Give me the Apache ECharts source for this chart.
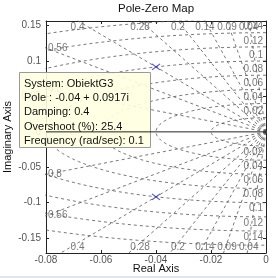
<!DOCTYPE html>
<html><head><meta charset="utf-8">
<script src="https://cdn.jsdelivr.net/npm/echarts@6/dist/echarts.min.js"></script>
<style>html,body{margin:0;padding:0;background:#fff}#c{width:276px;height:278px}</style>
</head><body><div id="c"></div>
<script>
// ---- data ----
const xTicks = [-0.08, -0.06, -0.04, -0.02, 0];
const yTicks = [-0.15, -0.1, -0.05, 0, 0.05, 0.1, 0.15];
const poleReal = [-0.04, -0.04];
const poleImag = [0.0917, -0.0917];
const dampingValues = [0.04, 0.09, 0.14, 0.2, 0.28, 0.4, 0.56, 0.8];
const freqValues = [0.02, 0.04, 0.06, 0.08, 0.1, 0.12, 0.14, 0.16];
const freqLabelValues = [0.02, 0.04, 0.06, 0.08, 0.1, 0.12, 0.14];
const tipLines = ['System: ObiektG3', 'Pole : -0.04 + 0.0917i', 'Damping: 0.4', 'Overshoot (%): 25.4', 'Frequency (rad/sec): 0.1'];
const titleText = 'Pole-Zero Map';
const xTitle = 'Real Axis';
const yTitle = 'Imaginary Axis';

// ---- axis limits ----
const X_MIN = -0.08, X_MAX = 0, Y_MIN = -0.171, Y_MAX = 0.1565, Y_LAB = 0.157;

const gridStyle = { color: '#555', width: 0.8, type: [3, 3] };
const series = [];

// damping rays
dampingValues.forEach(z => {
  const s = Math.sqrt(1 - z * z);
  [1, -1].forEach(sg => {
    series.push({ type: 'line', data: [[0, 0], [-z, sg * s]], symbol: 'none', silent: true,
      lineStyle: gridStyle, clip: true, z: 2 });
  });
});
// natural frequency circles
freqValues.forEach(w => {
  const pts = [];
  for (let a = 90; a <= 270; a += 1.5) {
    const t = a * Math.PI / 180;
    pts.push([w * Math.cos(t), w * Math.sin(t)]);
  }
  series.push({ type: 'line', data: pts, symbol: 'none', silent: true, lineStyle: gridStyle, clip: true, z: 2 });
});

// damping labels
const labStyle = { show: true, formatter: '{b}', color: '#555', fontFamily: 'Liberation Sans, Arial', fontSize: 10 };
const topLab = [], botLab = [], leftUp = [], leftDn = [];
dampingValues.forEach(z => {
  const s = Math.sqrt(1 - z * z);
  const xi = -z / s * Y_LAB;
  if (xi > X_MIN) {
    topLab.push({ name: String(z), value: [xi, Y_MAX] });
    botLab.push({ name: String(z), value: [xi, Y_MIN] });
  } else {
    const yi = -X_MIN * s / z;
    leftUp.push({ name: String(z), value: [X_MIN, yi] });
    leftDn.push({ name: String(z), value: [X_MIN, -yi] });
  }
});
const labSeries = (data, pos, extra) => ({ type: 'scatter', data, symbolSize: 0, silent: true, clip: false, z: 3,
  label: Object.assign({}, labStyle, { position: pos, distance: 1 }, extra || {}) });
series.push(labSeries(topLab, 'bottom'));
series.push(labSeries(botLab, 'top'));
series.push(labSeries(leftUp, 'right', { distance: 2 }));
series.push(labSeries(leftDn, 'right', { distance: 2 }));
// frequency labels
series.push(labSeries(freqLabelValues.map(w => ({ name: String(w), value: [0, w] })), 'left', { distance: 3, offset: [0, -6] }));
series.push(labSeries(freqLabelValues.map(w => ({ name: String(w), value: [0, -w] })), 'left', { distance: 3, offset: [0, 6] }));

// zero line
series.push({ type: 'line', data: [[X_MIN, 0], [X_MAX, 0]], symbol: 'none', silent: true,
  lineStyle: { color: '#222', width: 1 }, z: 200 });

// poles
series.push({ type: 'scatter', data: poleReal.map((r, i) => [r, poleImag[i]]), silent: true, z: 10,
  symbol: 'path://M0,0L10,8M10,0L0,8', symbolSize: [8, 6],
  itemStyle: { color: 'rgba(0,0,0,0)', borderColor: '#3030c0', borderWidth: 1 } });

const axisCommon = {
  axisLine: { show: true, onZero: false, lineStyle: { color: '#222', width: 1 } },
  axisTick: { show: true, inside: true, length: 3, lineStyle: { color: '#222' } },
  splitLine: { show: false }
};
const chart = echarts.init(document.getElementById('c'), null, { renderer: 'canvas' });
chart.setOption({
  animation: false,
  backgroundColor: '#fff',
  grid: { left: 46, right: 10, top: 21, bottom: 25 },
  xAxis: [
    Object.assign({ type: 'value', min: X_MIN, max: X_MAX, position: 'bottom',
      axisLabel: { customValues: xTicks, color: '#555', fontFamily: 'Liberation Sans, Arial', fontSize: 10, margin: 2, showMinLabel: true, showMaxLabel: true } },
      axisCommon, { axisTick: Object.assign({}, axisCommon.axisTick, { customValues: xTicks }) }),
    Object.assign({ type: 'value', min: X_MIN, max: X_MAX, position: 'top', axisLabel: { show: false } },
      axisCommon, { axisTick: Object.assign({}, axisCommon.axisTick, { customValues: xTicks }) })
  ],
  yAxis: [
    Object.assign({ type: 'value', min: Y_MIN, max: Y_MAX, position: 'left',
      axisLabel: { customValues: yTicks, color: '#555', fontFamily: 'Liberation Sans, Arial', fontSize: 10, margin: 5 } },
      axisCommon, { axisTick: Object.assign({}, axisCommon.axisTick, { customValues: yTicks }) }),
    Object.assign({ type: 'value', min: Y_MIN, max: Y_MAX, position: 'right', axisLabel: { show: false } },
      axisCommon, { axisTick: Object.assign({}, axisCommon.axisTick, { customValues: yTicks }) })
  ],
  series,
  graphic: [
    { type: 'text', x: 156, y: 9, style: { text: titleText, font: '11.5px Liberation Sans, Arial', fill: '#111', align: 'center', verticalAlign: 'middle' }, z: 50 },
    { type: 'text', x: 156, y: 269, style: { text: xTitle, font: '11px Liberation Sans, Arial', fill: '#111', align: 'center', verticalAlign: 'middle' }, z: 50 },
    { type: 'text', x: 8, y: 137, rotation: Math.PI / 2, style: { text: yTitle, font: '11px Liberation Sans, Arial', fill: '#111', align: 'center', verticalAlign: 'middle' }, z: 50 },
    { type: 'rect', shape: { x: 0, y: 276, width: 276, height: 2 }, style: { fill: '#dfe6ee' }, z: 50 },
    { type: 'rect', shape: { x: 19.5, y: 72.5, width: 131, height: 75 }, style: { fill: 'rgba(255,255,225,0.9)', stroke: '#9a9a9a', lineWidth: 1 }, z: 100 }
  ].concat(tipLines.map((t, i) => ({ type: 'text', x: 24, y: 84 + i * 14.2,
    style: { text: t, font: '11px Liberation Sans, Arial', fill: '#111', verticalAlign: 'middle' }, z: 101 })))
});
</script></body></html>
